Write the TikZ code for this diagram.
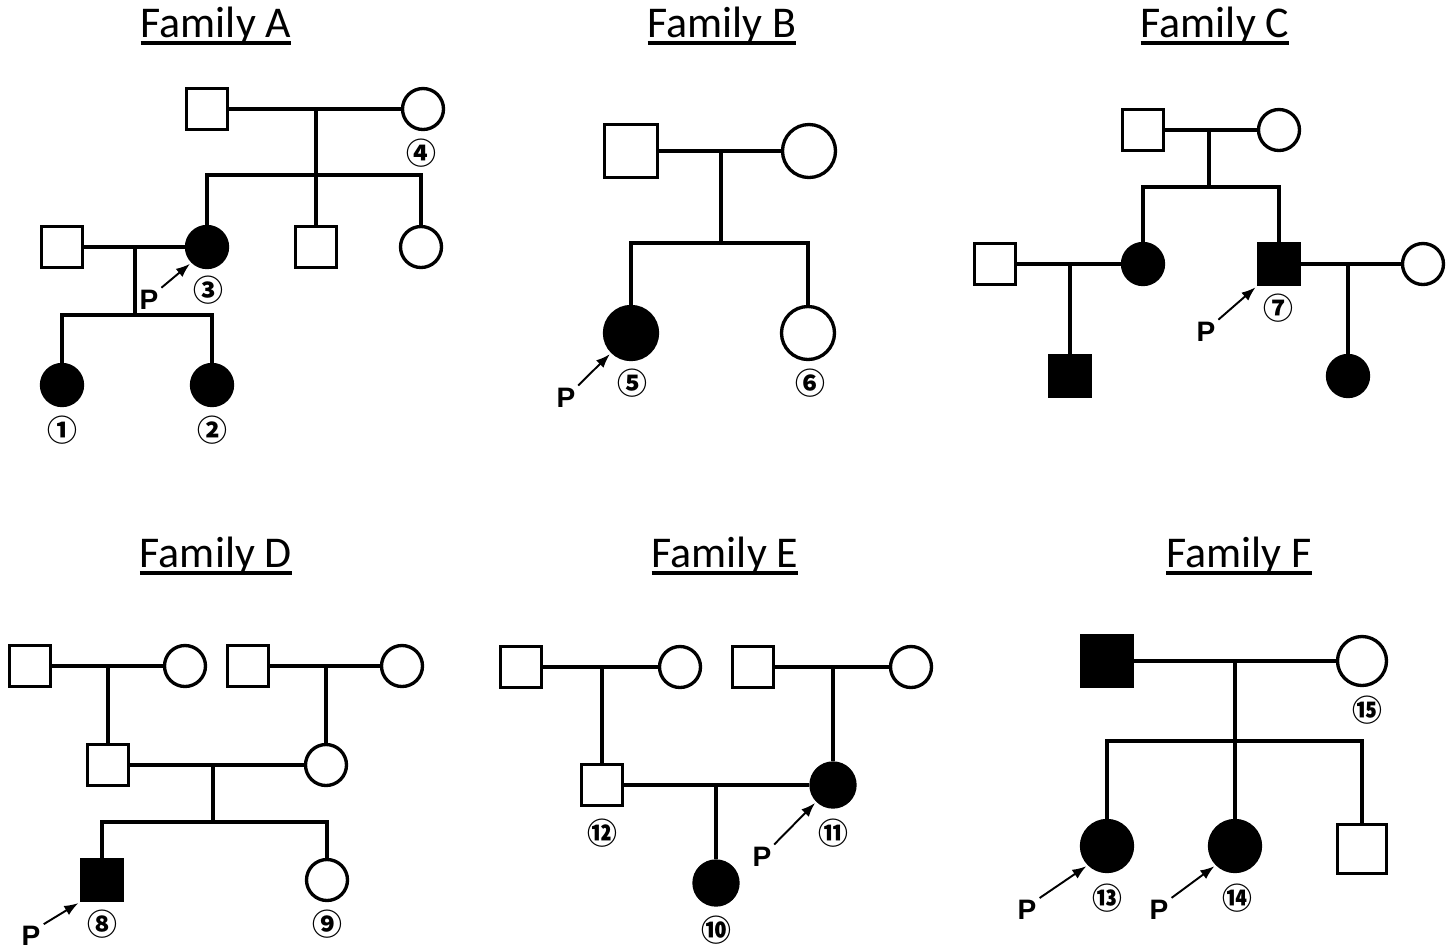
\documentclass[tikz,border=0pt]{standalone}
\usepackage{fontspec}
\setmainfont{Carlito}
\newfontfamily\cjk{Noto Sans CJK JP}
\newfontfamily\pfont{Liberation Sans}
\usetikzlibrary{arrows.meta}
\newcommand\famline[1]{\setbox0\hbox{#1}\rlap{\vrule height -2.4pt depth 4.3pt width \wd0}\box0}

\begin{document}
\begin{tikzpicture}[x=0.02cm, y=-0.02cm, >={Latex[length=8pt,width=6pt]}]
      \tikzset{
	  male/.style={rectangle, draw, line width=1.9pt, inner sep=0pt, minimum size={#1*0.02cm}},
	  male/.default=41,
	  female/.style={circle, draw, line width=1.9pt, inner sep=0pt, minimum size={#1*0.02cm}},
	  female/.default=41,
	  ill/.style={fill=black},
	  link/.style={line width=1.9pt},
	  title/.style={anchor=base, inner sep=0pt, font=\fontsize{25}{29}\selectfont},
	  num/.style={inner sep=0pt, font=\cjk\bfseries\fontsize{17}{17}\selectfont},
	  proband/.style={inner sep=0pt, font=\pfont\bfseries\fontsize{16}{16}\selectfont},
	  pointer/.style={->, line width=1.1pt, shorten <=2pt, shorten >=1pt},
      }
      \useasboundingbox (0,0) rectangle (1455,951);

      % Family A
      \node (tA) at (216,37) [title] {\famline{Family A}};
      \node (a1) at (207,109) [male] {};
      \node (a4) at (423,109) [female] {};
      \node (a3) at (207,247) [female, ill] {};
      \node (a5) at (316,247) [male] {};
      \node (a6) at (421,247) [female] {};
      \node (a7) at (62,247) [male] {};
      \node (a8) at (62,385) [female, ill] {};
      \node (a9) at (212,385) [female, ill] {};
      \coordinate (am) at (316,109);
      \coordinate (as) at (316,175);
      \draw [link] (a1) -- (a4);
      \draw [link] (am) -- (a5);
      \draw [link] (a3) |- (as) -| (a6);
      \coordinate (am2) at (135,247);
      \coordinate (as2) at (135,315);
      \draw [link] (a7) -- (a3);
      \draw [link] (am2) -- (as2);
      \draw [link] (a8) |- (as2) -| (a9);
      \node (n1) at (62,430) [num] {①};
      \node (n2) at (212,430) [num] {②};
      \node (n3) at (208,290) [num] {③};
      \node (n4) at (421,153) [num] {④};
      \node (pA) at (149,300) [proband] {P};
      \draw [pointer] (pA.north east) -- (a3.225);

      % Family B
      \node (tB) at (722,37) [title] {\famline{Family B}};
      \node (b1) at (631,151) [male=53] {};
      \node (b2) at (809,151) [female=53] {};
      \node (b5) at (631,333) [female=53, ill] {};
      \node (b6) at (808,333) [female=53] {};
      \coordinate (bm) at (721,151);
      \coordinate (bs) at (721,243);
      \draw [link] (b1) -- (b2);
      \draw [link] (bm) -- (bs);
      \draw [link] (b5) |- (bs) -| (b6);
      \node (n5) at (632,383) [num] {⑤};
      \node (n6) at (810,383) [num] {⑥};
      \node (pB) at (566,398) [proband] {P};
      \draw [pointer] (pB.north east) -- (b5.225);

      % Family C
      \node (tC) at (1215,37) [title] {\famline{Family C}};
      \node (c1) at (1143,130) [male] {};
      \node (c2) at (1279,130) [female] {};
      \node (c3) at (1143,264) [female, ill] {};
      \node (c7) at (1279,264) [male, ill] {};
      \node (c4) at (995,264) [male] {};
      \node (c8) at (1423,264) [female] {};
      \node (c5) at (1070,376) [male, ill] {};
      \node (c9) at (1348,376) [female, ill] {};
      \coordinate (cm) at (1209,130);
      \coordinate (cs) at (1209,187);
      \draw [link] (c1) -- (c2);
      \draw [link] (cm) -- (cs);
      \draw [link] (c3) |- (cs) -| (c7);
      \coordinate (cm2) at (1070,264);
      \draw [link] (c4) -- (c3);
      \draw [link] (cm2) -- (c5);
      \coordinate (cm3) at (1348,264);
      \draw [link] (c7) -- (c8);
      \draw [link] (cm3) -- (c9);
      \node (n7) at (1278,308) [num] {⑦};
      \node (pC) at (1206,332) [proband] {P};
      \draw [pointer] (pC.north east) -- (c7.south west);

      % Family D
      \node (tD) at (216,567) [title] {\famline{Family D}};
      \node (d1) at (30,666) [male] {};
      \node (d2) at (185,666) [female] {};
      \node (d3) at (248,666) [male] {};
      \node (d4) at (402,666) [female] {};
      \node (d5) at (108,765) [male] {};
      \node (d6) at (326,765) [female] {};
      \node (d8) at (102,880) [male, ill] {};
      \node (d9) at (327,880) [female] {};
      \coordinate (dm1) at (108,666);
      \coordinate (dm2) at (326,666);
      \draw [link] (d1) -- (d2);
      \draw [link] (dm1) -- (d5);
      \draw [link] (d3) -- (d4);
      \draw [link] (dm2) -- (d6);
      \coordinate (dm3) at (213,765);
      \coordinate (ds) at (213,822);
      \draw [link] (d5) -- (d6);
      \draw [link] (dm3) -- (ds);
      \draw [link] (d8) |- (ds) -| (d9);
      \node (n8) at (102,924) [num] {⑧};
      \node (n9) at (327,924) [num] {⑨};
      \node (pD) at (31,936) [proband] {P};
      \draw [pointer] (pD.north east) -- (d8.south west);

      % Family E
      \node (tE) at (725,567) [title] {\famline{Family E}};
      \node (e1) at (521,667) [male] {};
      \node (e2) at (680,667) [female] {};
      \node (e3) at (753,667) [male] {};
      \node (e4) at (911,667) [female] {};
      \node (e12) at (602,785) [male] {};
      \node (e11) at (833,785) [female=44, ill] {};
      \node (e10) at (716,883) [female=44, ill] {};
      \coordinate (em1) at (602,667);
      \coordinate (em2) at (833,667);
      \coordinate (em3) at (716,785);
      \draw [link] (e1) -- (e2);
      \draw [link] (em1) -- (e12);
      \draw [link] (e3) -- (e4);
      \draw [link] (em2) -- (e11);
      \draw [link] (e12) -- (e11);
      \draw [link] (em3) -- (e10);
      \node (n12) at (602,833) [num] {⑫};
      \node (n11) at (833,833) [num] {⑪};
      \node (n10) at (716,930) [num] {⑩};
      \node (pE) at (762,857) [proband] {P};
      \draw [pointer] (pE.north east) -- (e11.225);

      % Family F
      \node (tF) at (1239,567) [title] {\famline{Family F}};
      \node (f1) at (1107,661) [male=50, ill] {};
      \node (f2) at (1362,661) [female=49] {};
      \node (f13) at (1107,846) [female=51, ill] {};
      \node (f14) at (1235,846) [female=51, ill] {};
      \node (f3) at (1362,849) [male=49] {};
      \coordinate (fm) at (1235,661);
      \coordinate (fs) at (1235,741);
      \draw [link] (f1) -- (f2);
      \draw [link] (fm) -- (f14);
      \draw [link] (f13) |- (fs) -| (f3);
      \node (n15) at (1367,710) [num] {⑮};
      \node (n13) at (1107,898) [num] {⑬};
      \node (n14) at (1237,898) [num] {⑭};
      \node (pF1) at (1027,910) [proband] {P};
      \node (pF2) at (1159,910) [proband] {P};
      \draw [pointer] (pF1.north east) -- (f13.225);
      \draw [pointer] (pF2.north east) -- (f14.225);
\end{tikzpicture}
\end{document}
